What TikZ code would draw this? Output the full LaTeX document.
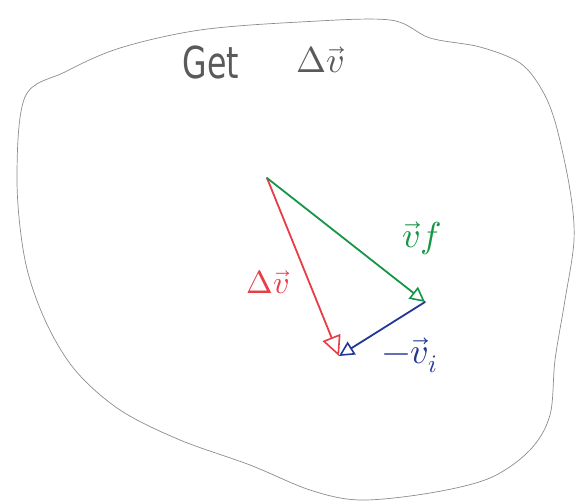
\documentclass[tikz,border=0pt]{standalone}
\usepackage{fontspec}
\usepackage{unicode-math}
\setmainfont{DejaVu Sans}
\setmathfont{Latin Modern Math}
\usetikzlibrary{arrows.meta}
\definecolor{penred}{RGB}{232,60,70}
\definecolor{pengreen}{RGB}{20,150,70}
\definecolor{penblue}{RGB}{35,55,150}
\definecolor{pengray}{RGB}{90,90,90}
\begin{document}
\begin{tikzpicture}[x=1pt,y=-1pt,
  outline/.style={draw=black!45,line width=0.7pt},
  vec/.style={line width=1.8pt,line cap=round,-{Triangle[open,length=15pt,width=15pt,line width=1.6pt]}},
  bigvec/.style={line width=1.8pt,line cap=round,-{Triangle[open,length=20pt,width=19pt,line width=1.6pt]}},
  lbl/.style={font=\fontsize{36}{40}\selectfont,inner sep=0pt}]
\useasboundingbox (0,0) rectangle (581,502);
\draw[outline] plot[smooth cycle,tension=0.55] coordinates {
 (25,97) (65,72) (120,48) (200,30) (300,22) (390,20) (430,38) (480,47)
 (520,63) (542,90) (556,125) (570,190) (574,240) (565,300) (555,360)
 (550,415) (530,450) (490,478) (430,493) (360,500) (310,490) (250,465)
 (180,440) (120,410) (75,370) (45,320) (25,260) (17,180)};
\node[font=\fontsize{44}{48}\selectfont,text=pengray,inner sep=0pt] (get) at (211,62) {\scalebox{0.72}[1]{Get}};
\node[lbl,text=pengray] (title) at (320,60) {$\Delta\vec{v}$};
\coordinate (A) at (267,178);
\coordinate (B) at (425,302);
\coordinate (C) at (339,356);
\draw[bigvec,draw=penred] (A) -- (C);
\draw[vec,draw=pengreen] (A) -- (B);
\draw[vec,draw=penblue] (B) -- (C);
\node[lbl,font=\fontsize{32}{36}\selectfont,text=penred] (dv) at (268,282) {$\Delta\vec{v}$};
\node[lbl,text=pengreen] (vf) at (422,238) {$\vec{v}f$};
\node[lbl,text=penblue] (vi) at (410,355) {$-\vec{v}_{i}$};
\end{tikzpicture}
\end{document}
